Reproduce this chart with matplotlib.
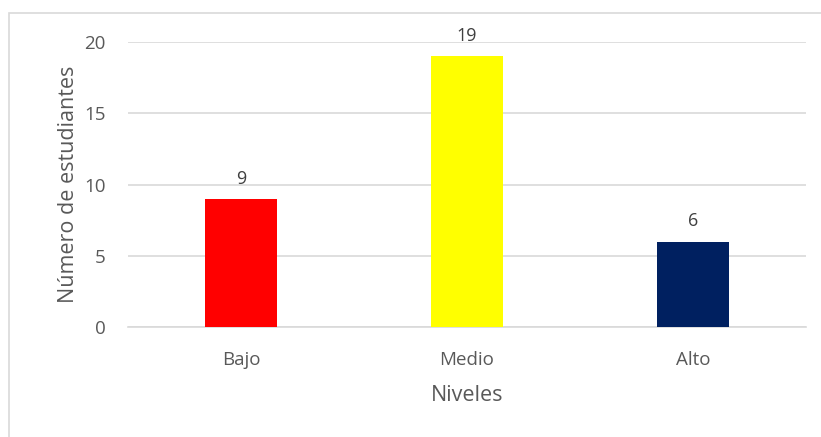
import matplotlib.pyplot as plt
from matplotlib.patches import Rectangle

# data
niveles = ["Bajo", "Medio", "Alto"]
estudiantes = [9, 19, 6]
colores = ["#FF0000", "#FFFF00", "#002060"]
y_ticks = [0, 5, 10, 15, 20]

plt.rcParams['font.family'] = ['Open Sans', 'DejaVu Sans']
txt = "#595959"

fig = plt.figure(figsize=(8.21, 4.37), dpi=100)
ax = fig.add_axes([128/821, 1 - 327/437, (806 - 128)/821, (327 - 42)/437])

x = range(len(niveles))
bars = ax.bar(x, estudiantes, width=0.32, color=colores, zorder=3)

for b, v in zip(bars, estudiantes):
    ax.annotate(str(v), (b.get_x() + b.get_width()/2, v), xytext=(0, 8),
                textcoords="offset points", ha="center", va="bottom",
                fontsize=13, color="#404040")

ax.set_xlim(-0.5, 2.5)
ax.set_ylim(0, 20)
ax.set_yticks(y_ticks)
ax.set_xticks(list(x))
ax.set_xticklabels(niveles)
ax.grid(axis="y", color="#D9D9D9", linewidth=1.2, zorder=0)
for s in ["top", "right", "left"]:
    ax.spines[s].set_visible(False)
ax.spines["bottom"].set_color("#D9D9D9")
ax.spines["bottom"].set_linewidth(1.2)
ax.tick_params(length=0, labelsize=13.5, labelcolor=txt)
ax.tick_params(axis="y", pad=16)
ax.tick_params(axis="x", pad=17)

ax.set_xlabel("Niveles", fontsize=15.5, color=txt, labelpad=12)
ax.set_ylabel("Número de estudiantes", fontsize=15.5, color=txt, labelpad=4)

# chart-area border (runs off the right and bottom of the image)
fig.patches.append(Rectangle((9/821, -0.1), 1.1, 1 - 13/437 + 0.1,
                             transform=fig.transFigure, fill=False,
                             edgecolor="#D9D9D9", linewidth=1.2))

fig.savefig("out.png", dpi=100)
